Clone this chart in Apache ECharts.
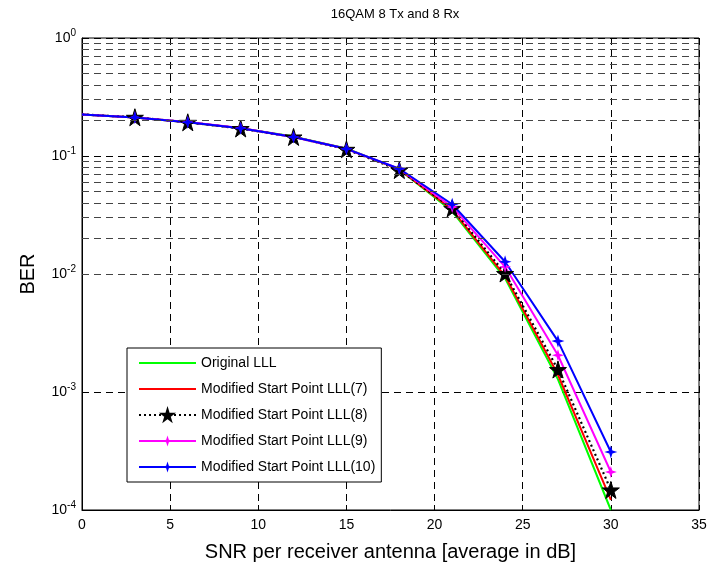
<!DOCTYPE html>
<html>
<head>
<meta charset="utf-8">
<script src="https://cdn.jsdelivr.net/npm/echarts@6/dist/echarts.min.js"></script>
<style>html,body{margin:0;padding:0;background:#fff}#c{width:710px;height:568px}</style>
</head>
<body>
<div id="c"></div>
<script>
const snr = [0, 3, 6, 9, 12, 15, 18, 21, 24, 27, 30];
const berOriginal = [0.225, 0.212, 0.193, 0.172, 0.146, 0.116, 0.077, 0.034, 0.0092, 0.00128, 0.000100];
const berLLL7 = [0.225, 0.212, 0.193, 0.172, 0.145, 0.115, 0.077, 0.035, 0.0096, 0.00140, 0.000122];
const berLLL8 = [0.225, 0.213, 0.193, 0.171, 0.145, 0.114, 0.076, 0.036, 0.0101, 0.00155, 0.000148];
const berLLL9 = [0.225, 0.212, 0.194, 0.173, 0.145, 0.115, 0.078, 0.037, 0.0115, 0.00205, 0.000210];
const berLLL10 = [0.225, 0.212, 0.193, 0.172, 0.145, 0.115, 0.078, 0.039, 0.0127, 0.00270, 0.000310];
const seriesNames = ['Original LLL', 'Modified Start Point LLL(7)', 'Modified Start Point LLL(8)', 'Modified Start Point LLL(9)', 'Modified Start Point LLL(10)'];
const titleText = '16QAM 8 Tx and 8 Rx';
const xTitle = 'SNR per receiver antenna [average in dB]';
const yTitle = 'BER';

const FONT = 'Liberation Sans, Arial, sans-serif';
const starPath = 'path://M50,0 L61,35 L98,35 L68,57 L79,91 L50,70 L21,91 L32,57 L2,35 L39,35 Z';
const fourStar = 'path://M50,0 L62,38 L100,50 L62,62 L50,100 L38,62 L0,50 L38,38 Z';

// minor log grid lines (2..9 in each decade)
const minorVals = [];
for (let e = -4; e < 0; e++) {
  for (let m = 2; m <= 9; m++) minorVals.push(m * Math.pow(10, e));
}

function pts(arr) {
  return snr.map((x, i) => {
    const item = { value: [x, arr[i]] };
    if (i === 0) item.symbol = 'none';
    return item;
  });
}

const chart = echarts.init(document.getElementById('c'));
chart.setOption({
  animation: false,
  backgroundColor: '#fff',
  title: {
    text: titleText, left: 390, top: 3, textAlign: 'center',
    textStyle: { fontFamily: FONT, fontSize: 13, fontWeight: 'normal', color: '#000' }
  },
  grid: { left: 82, right: 11, top: 38, bottom: 58, show: true, borderColor: '#000', borderWidth: 1, backgroundColor: 'transparent' },
  legend: {
    orient: 'vertical', left: 127, top: 348,
    data: [
      { name: seriesNames[0], itemStyle: { opacity: 0 } },
      { name: seriesNames[1], itemStyle: { opacity: 0 } },
      { name: seriesNames[2] },
      { name: seriesNames[3] },
      { name: seriesNames[4] }
    ],
    itemWidth: 57, itemHeight: 14, itemGap: 12,
    padding: [8, 6, 8, 11],
    backgroundColor: '#fff', borderColor: '#000', borderWidth: 1,
    textStyle: { fontFamily: FONT, fontSize: 14, color: '#000' }
  },
  xAxis: {
    type: 'value', min: 0, max: 35, interval: 5,
    name: xTitle, nameLocation: 'middle', nameGap: 32,
    nameTextStyle: { fontFamily: FONT, fontSize: 20, color: '#000' },
    axisLine: { show: true, lineStyle: { color: '#000' } },
    axisTick: { show: true, inside: true, length: 5, lineStyle: { color: '#000' } },
    axisLabel: { fontFamily: FONT, fontSize: 14, color: '#000', margin: 8 },
    splitLine: { show: true, lineStyle: { type: [7, 5], color: '#000', width: 1 } }
  },
  yAxis: {
    type: 'log', logBase: 10, min: 1e-4, max: 1,
    name: yTitle, nameLocation: 'middle', nameGap: 44,
    nameTextStyle: { fontFamily: FONT, fontSize: 20, color: '#000' },
    axisLine: { show: true, lineStyle: { color: '#000' } },
    axisTick: { show: true, inside: true, length: 5, lineStyle: { color: '#000' } },
    axisLabel: {
      fontFamily: FONT, color: '#000', margin: 6,
      formatter: v => '{b|10}{s|' + Math.round(Math.log10(v)) + '}',
      rich: {
        b: { fontFamily: FONT, fontSize: 14, color: '#000' },
        s: { fontFamily: FONT, fontSize: 10, color: '#000', padding: [0, 0, 10, 0] }
      }
    },
    splitLine: { show: true, lineStyle: { type: [7, 5], color: '#000', width: 1 } }
  },
  series: [
    {
      name: 'minorGrid', type: 'line', data: [], silent: true,
      markLine: {
        silent: true, symbol: 'none', label: { show: false },
        lineStyle: { type: [7, 5], color: '#444', width: 1 },
        data: minorVals.map(v => ({ yAxis: v }))
      }
    },
    {
      name: seriesNames[0], type: 'line', data: pts(berOriginal), symbol: 'none',
      lineStyle: { color: '#00ff00', width: 2 }, itemStyle: { color: '#00ff00' }
    },
    {
      name: seriesNames[1], type: 'line', data: pts(berLLL7), symbol: 'none',
      lineStyle: { color: '#ff0000', width: 2 }, itemStyle: { color: '#ff0000' }
    },
    {
      name: seriesNames[2], type: 'line', data: pts(berLLL8), symbol: starPath, symbolSize: 17,
      lineStyle: { color: '#000', width: 2.2, type: [2, 3] },
      itemStyle: { color: '#000', borderColor: '#000', borderWidth: 1 }
    },
    {
      name: seriesNames[3], type: 'line', data: pts(berLLL9), symbol: fourStar, symbolSize: 12,
      lineStyle: { color: '#ff00ff', width: 2 }, itemStyle: { color: '#ff00ff' }
    },
    {
      name: seriesNames[4], type: 'line', data: pts(berLLL10), symbol: fourStar, symbolSize: 13,
      lineStyle: { color: '#0000ff', width: 2 }, itemStyle: { color: '#0000ff' }
    }
  ]
});
</script>
</body>
</html>
